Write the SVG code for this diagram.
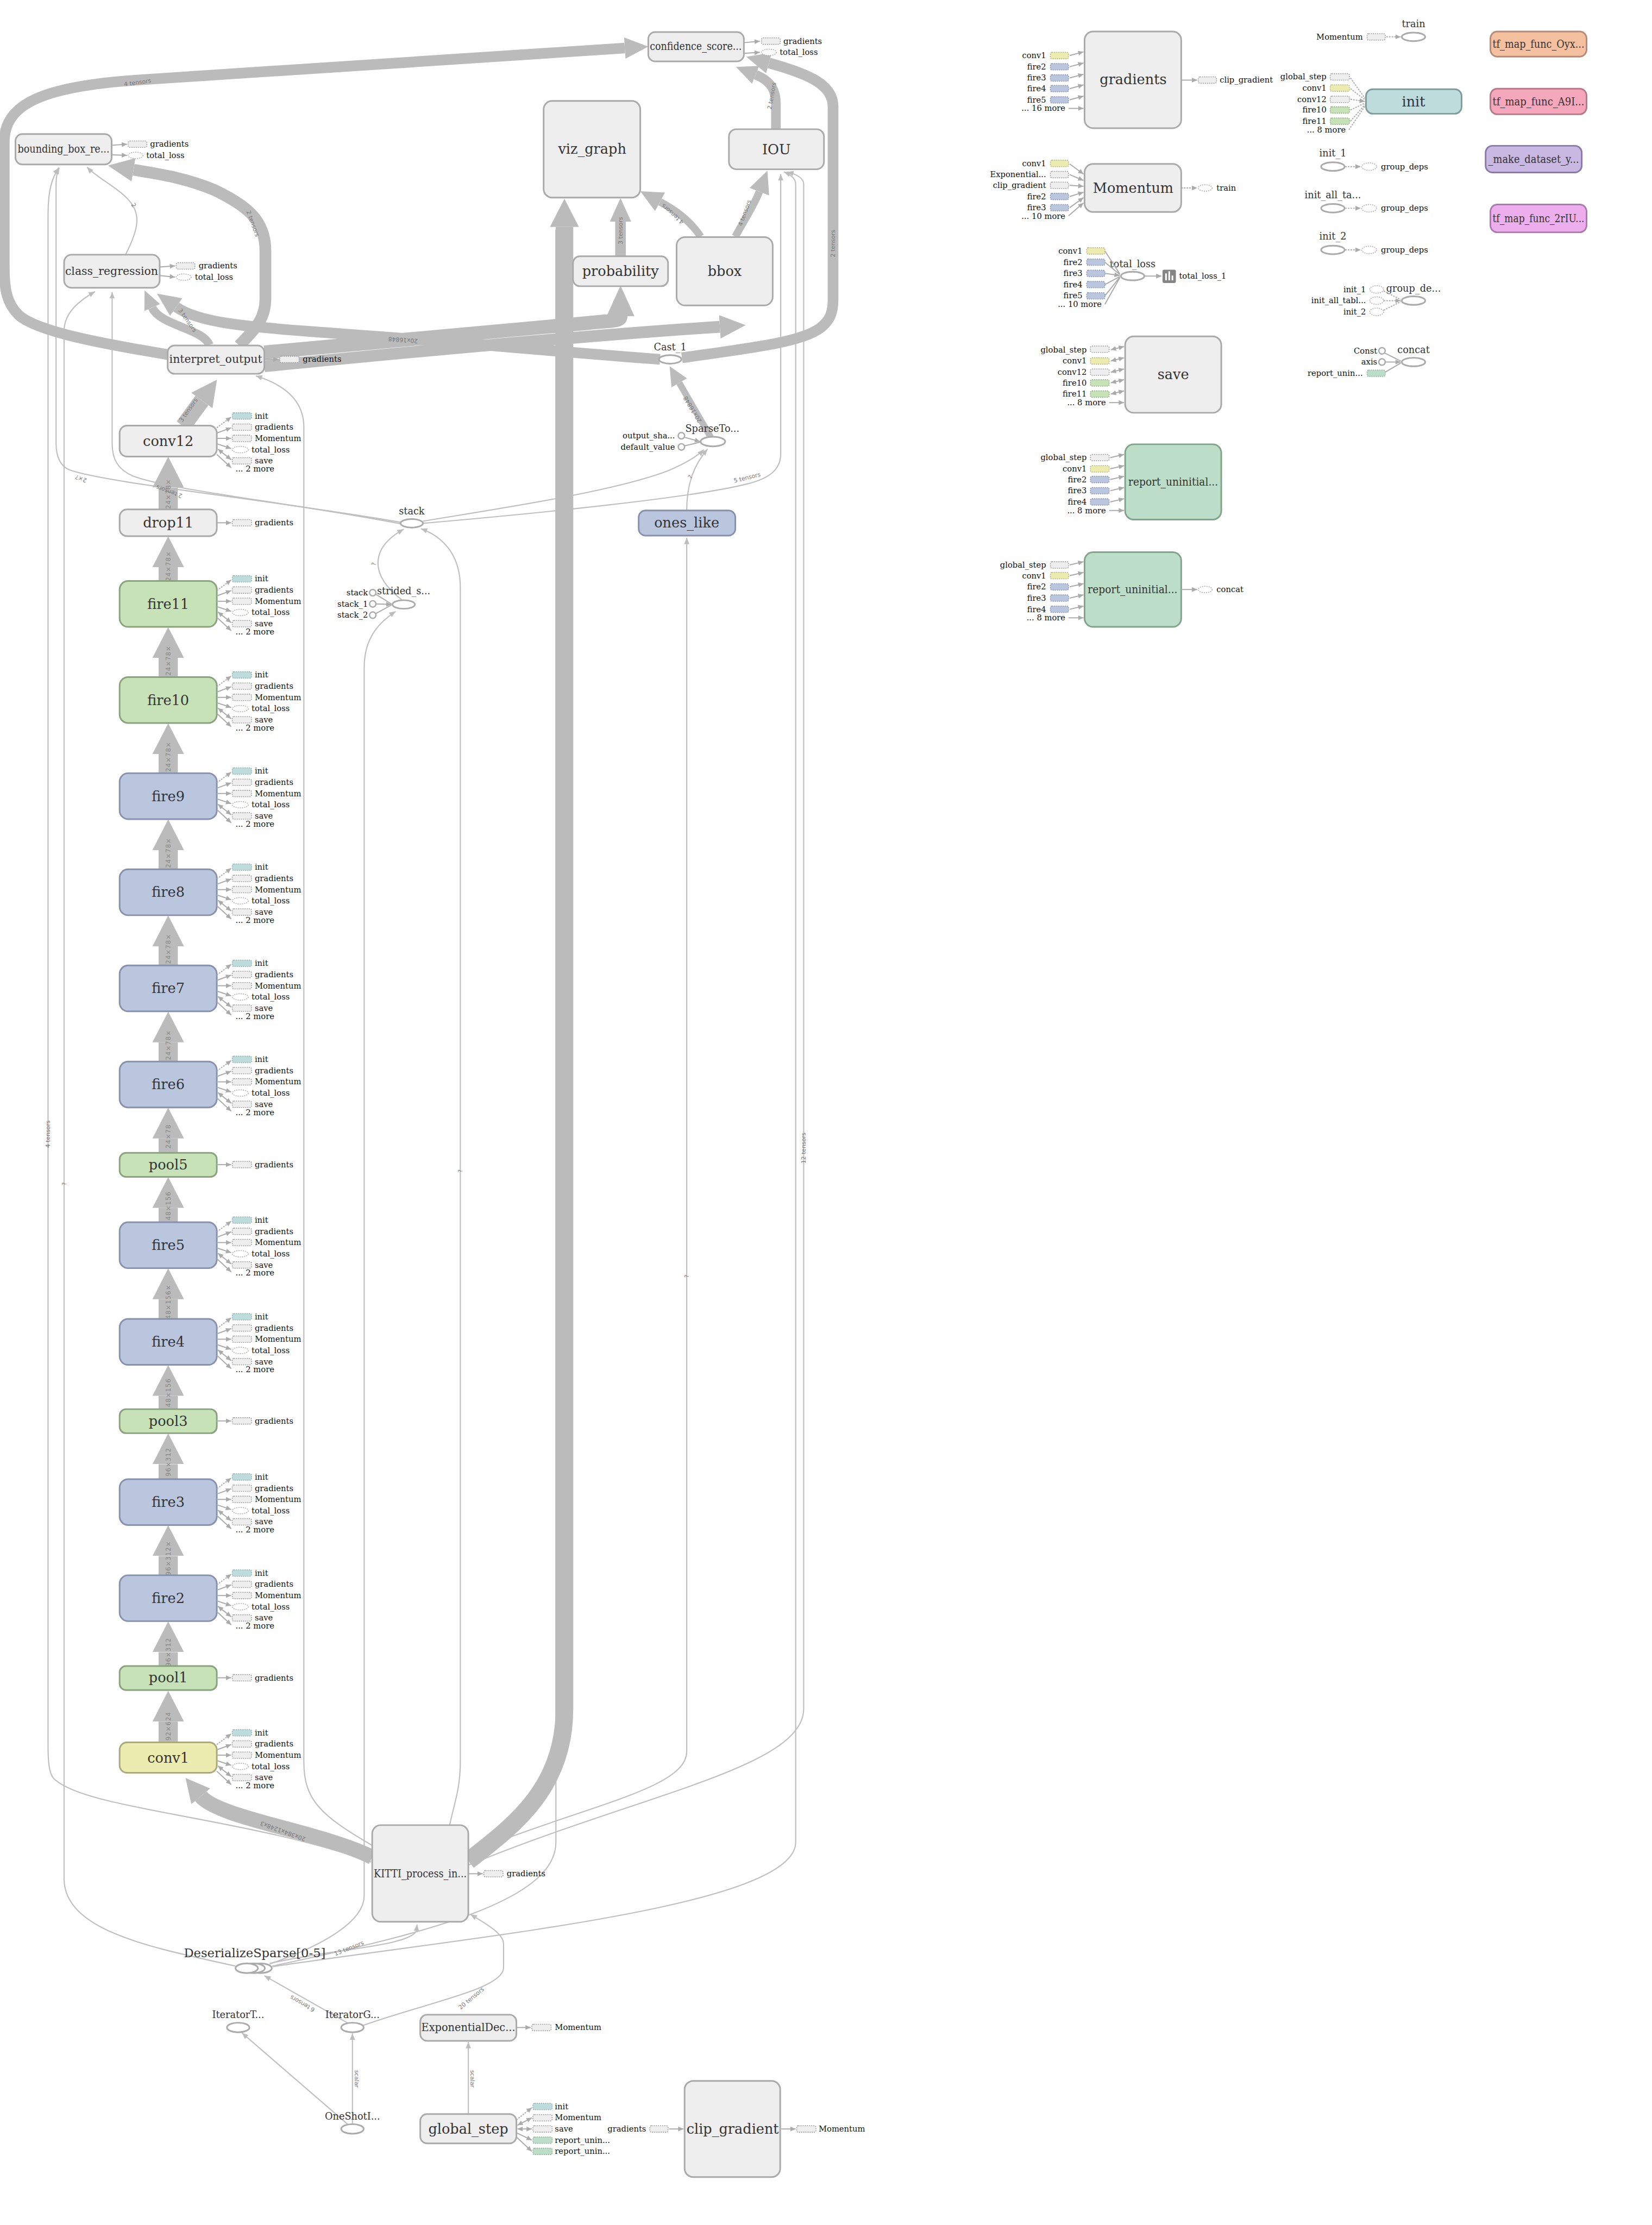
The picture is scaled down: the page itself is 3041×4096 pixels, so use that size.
<svg xmlns="http://www.w3.org/2000/svg" xmlns:xlink="http://www.w3.org/1999/xlink" width="3041" height="4096" viewBox="0 0 3041 4096">
<style>
.nd{stroke-width:3}
.g{fill:#eeeeee;stroke:#a9a9a9}
.b{fill:#bac5de;stroke:#8791ab}
.gr{fill:#c6e2b6;stroke:#8aa27e}
.y{fill:#ececb0;stroke:#a9a97c}
.t{fill:#bfdcdc;stroke:#7e9c9c}
.m{fill:#bcdec8;stroke:#82a28c}
.fo{fill:#f5c0a0;stroke:#b58a78}
.fp{fill:#f5a7bb;stroke:#b47a8a}
.fv{fill:#c8b8e2;stroke:#8a7aaa}
.fm{fill:#ecaeec;stroke:#ac7aac}
.L{font-family:"DejaVu Serif","Liberation Serif",serif;font-size:26px;fill:#333;text-anchor:middle}
.Lm{font-family:"DejaVu Serif","Liberation Serif",serif;font-size:20px;fill:#333;text-anchor:middle}
.oL{font-family:"DejaVu Serif","Liberation Serif",serif;font-size:18px;fill:#333;text-anchor:middle}
.s{font-family:"DejaVu Serif","Liberation Serif",serif;font-size:15px;fill:#111}
.sr{font-family:"DejaVu Serif","Liberation Serif",serif;font-size:15px;fill:#111;text-anchor:end}
.el{font-family:"DejaVu Sans","Liberation Sans",sans-serif;font-size:11px;fill:#777;text-anchor:middle}
.cl{font-family:"DejaVu Sans","Liberation Sans",sans-serif;font-size:12px;fill:#888;text-anchor:middle;letter-spacing:1px}
.thin{fill:none;stroke:#bfbfbf;stroke-width:2.2}
.thk{fill:none;stroke:#bbbbbb}
.sa{fill:none;stroke:#aaaaaa;stroke-width:2}
.sd{stroke-dasharray:3 2}
.dr{fill:#eeeeee;stroke:#999999;stroke-width:1.6;stroke-dasharray:2 2}
.de{fill:#ffffff;stroke:#aaaaaa;stroke-width:1.6;stroke-dasharray:2 2}
.op{fill:#ffffff;stroke:#aaaaaa;stroke-width:3}
.oc{fill:#ffffff;stroke:#aaaaaa;stroke-width:2.5}
</style>
<defs>
<marker id="hc" viewBox="0 0 10 10" refX="0" refY="5" markerWidth="1.6" markerHeight="1.64" orient="auto" preserveAspectRatio="none"><path d="M0,0 L10,5 L0,10 z" fill="#bbbbbb"/></marker>
<marker id="ht" viewBox="0 0 10 10" refX="0" refY="5" markerWidth="2.2" markerHeight="2.0" orient="auto" preserveAspectRatio="none"><path d="M0,0 L10,5 L0,10 z" fill="#bbbbbb"/></marker>
<marker id="hw" viewBox="0 0 10 10" refX="0" refY="5" markerWidth="3" markerHeight="2.8" orient="auto" preserveAspectRatio="none"><path d="M0,0 L10,5 L0,10 z" fill="#bbbbbb"/></marker>
<marker id="ta" viewBox="0 0 12 10" refX="12" refY="5" markerWidth="12" markerHeight="10" markerUnits="userSpaceOnUse" orient="auto"><path d="M0,0 L12,5 L0,10 z" fill="#bdbdbd"/></marker>
<marker id="sa" viewBox="0 0 10 9" refX="10" refY="4.5" markerWidth="10" markerHeight="9" markerUnits="userSpaceOnUse" orient="auto-start-reverse"><path d="M0,0 L10,4.5 L0,9 z" fill="#aaaaaa"/></marker>
<g id="sat6">
<line class="sa sd" x1="0" y1="-25" x2="27" y2="-45" marker-end="url(#sa)"/>
<rect class="dr" x="29" y="-53" width="36" height="12" rx="3" style="fill:#bfdcdc;stroke:#8fabab"/>
<line class="sa" x1="0" y1="-15" x2="27" y2="-25" marker-end="url(#sa)"/>
<rect class="dr" x="29" y="-32" width="36" height="12" rx="3"/>
<line class="sa" x1="0" y1="-5" x2="27" y2="-5" marker-end="url(#sa)"/>
<rect class="dr" x="29" y="-11" width="36" height="12" rx="3"/>
<line class="sa" x1="0" y1="5" x2="27" y2="14" marker-end="url(#sa)"/>
<ellipse class="de" cx="44" cy="16" rx="15" ry="6"/>
<line class="sa" x1="2" y1="15" x2="27" y2="35" marker-start="url(#sa)" marker-end="url(#sa)"/>
<rect class="dr" x="29" y="31" width="36" height="12" rx="3"/>
<line class="sa" x1="0" y1="25" x2="27" y2="50" marker-end="url(#sa)"/>
</g>
<g id="sat1">
<line class="sa" x1="0" y1="0" x2="27" y2="0" marker-end="url(#sa)"/>
<rect class="dr" x="29" y="-6" width="36" height="12" rx="3"/>
</g>
</defs>
<rect x="0" y="0" width="3041" height="4096" fill="#ffffff"/>
<g transform="scale(0.983)">

<g id="connectors">
<path class="thin" marker-end="url(#ta)" d="M695,3487 C450,3400 160,3390 100,3330 C92,3320 90,3300 90,3270 L90,400 C90,350 100,330 110,314"/>
<path class="thin" marker-end="url(#ta)" d="M441,3682 C300,3650 122,3620 120,3520 L120,620 C120,585 150,562 178,546"/>
<path class="thin" marker-end="url(#ta)" d="M750,978 C500,935 200,905 130,880 C112,872 105,855 105,830 L105,345 C105,330 108,320 111,314"/>
<path class="thin" marker-end="url(#ta)" d="M751,981 C550,942 330,920 250,892 C222,880 210,862 210,830 L210,547"/>
<path class="thin" marker-end="url(#ta)" d="M235,477 C262,425 262,400 243,377 C222,352 182,333 163,313"/>
<path class="thin" marker-end="url(#ta)" d="M697,3456 C600,3400 569,3370 569,3300 L569,800 C569,745 525,718 479,704"/>
<path class="thin" marker-end="url(#ta)" d="M505,3678 C600,3645 682,3600 682,3550 L682,1250 C682,1190 715,1162 741,1145"/>
<path class="thin" marker-end="url(#ta)" d="M842,3418 C850,3380 862,3350 862,3300 L862,1100 C862,1035 825,1003 788,990"/>
<path class="thin" marker-end="url(#ta)" d="M752,1123 C690,1075 695,1025 756,991"/>
<path class="thin" marker-end="url(#ta)" d="M792,976 C950,950 1150,920 1250,882 C1290,865 1308,852 1318,842"/>
<path class="thin" marker-end="url(#ta)" d="M792,980 C1000,962 1300,932 1400,906 C1440,896 1462,880 1462,850 L1462,326"/>
<path class="thin" marker-end="url(#ta)" d="M877,3470 C1100,3380 1286,3350 1286,3280 L1286,1007"/>
<path class="thin" marker-end="url(#ta)" d="M1286,956 C1286,905 1300,870 1325,841"/>
<path class="thin" marker-end="url(#ta)" d="M877,3493 C1200,3360 1505,3310 1505,3200 L1505,345 C1505,333 1490,326 1474,322"/>
<path class="thin" marker-end="url(#ta)" d="M510,3683 C900,3625 1490,3570 1490,3450 L1490,345 C1490,333 1478,326 1468,322"/>
<path class="thin" d="M510,3682 C800,3620 1041,3560 1041,3450 L1041,430"/>
<path class="thin" marker-end="url(#ta)" d="M505,3677 C620,3650 770,3645 780,3615 L781,3604"/>
<path class="thin" marker-end="url(#ta)" d="M652,3789 L495,3700"/>
<path class="thin" marker-end="url(#ta)" d="M680,3793 C800,3750 943,3725 943,3685 L943,3640 C943,3620 905,3600 881,3585"/>
<path class="thin" marker-end="url(#ta)" d="M652,3979 L453,3807"/>
<path class="thin" marker-end="url(#ta)" d="M660,3978 L660,3808"/>
<path class="thin" marker-end="url(#ta)" d="M877,3958 L877,3824"/>

<path class="thk" stroke-width="20" marker-end="url(#ht)" d="M314,664 C200,645 70,622 35,590 C12,568 8,540 8,500 L8,265 C8,195 80,162 255,150 L1170,90"/>
<path class="thk" stroke-width="22" marker-end="url(#ht)" d="M448,647 C475,618 497,600 497,560 L497,470 C497,412 462,385 402,356 C345,332 292,325 250,318"/>
<path class="thk" stroke-width="16" marker-end="url(#ht)" d="M392,646 C380,615 300,610 285,576"/>
<path class="thk" stroke-width="20" marker-end="url(#ht)" d="M1236,673 C1000,655 800,636 650,626 C500,614 380,610 330,575"/>
<path class="thk" stroke-width="26" marker-end="url(#ht)" d="M495,660 C800,632 1000,615 1100,605 C1148,600 1162,602 1162,592"/>
<path class="thk" stroke-width="22" marker-end="url(#ht)" d="M495,686 C800,656 1100,628 1348,612"/>
<path class="thk" stroke-width="20" marker-end="url(#ht)" d="M1277,670 C1420,650 1500,640 1535,615 C1555,600 1560,585 1560,560 L1560,200 C1560,160 1520,140 1440,118"/>
<path class="thk" stroke-width="18" marker-end="url(#ht)" d="M1453,242 L1453,195 C1453,170 1445,152 1415,140"/>
<path class="thk" stroke-width="20" marker-end="url(#ht)" d="M1162,480 L1162,415"/>
<path class="thk" stroke-width="14" marker-end="url(#hw)" d="M1312,443 C1290,410 1262,392 1236,378"/>
<path class="thk" stroke-width="14" marker-end="url(#hw)" d="M1377,443 C1395,410 1412,385 1422,359"/>
<path class="thk" stroke-width="12" marker-end="url(#hw)" d="M1331,819 L1272,717"/>
<path class="thk" stroke-width="33" marker-end="url(#hc)" d="M877,3485 C960,3420 1057,3350 1057,3200 L1057,425"/>
<path class="thk" stroke-width="28" marker-end="url(#hc)" d="M697,3478 C600,3430 410,3405 376,3364"/>
<path class="thk" stroke-width="30" marker-end="url(#hc)" d="M343,798 L378,750"/>

<g class="thk" stroke-width="36">
<path marker-end="url(#hc)" d="M315,3263 V3224"/>
<path marker-end="url(#hc)" d="M315,3120 V3094"/>
<path marker-end="url(#hc)" d="M315,2950 V2914"/>
<path marker-end="url(#hc)" d="M315,2770 V2742"/>
<path marker-end="url(#hc)" d="M315,2639 V2614"/>
<path marker-end="url(#hc)" d="M315,2470 V2433"/>
<path marker-end="url(#hc)" d="M315,2289 V2262"/>
<path marker-end="url(#hc)" d="M315,2159 V2132"/>
<path marker-end="url(#hc)" d="M315,1988 V1952"/>
<path marker-end="url(#hc)" d="M315,1808 V1772"/>
<path marker-end="url(#hc)" d="M315,1628 V1592"/>
<path marker-end="url(#hc)" d="M315,1448 V1412"/>
<path marker-end="url(#hc)" d="M315,1268 V1232"/>
<path marker-end="url(#hc)" d="M315,1088 V1062"/>
<path marker-end="url(#hc)" d="M315,954 V913"/>
</g>

<g class="cl">
<text transform="translate(319,3237) rotate(-90)">192×624</text>
<text transform="translate(319,3094) rotate(-90)">96×312</text>
<text transform="translate(319,2918) rotate(-90)">96×312×</text>
<text transform="translate(319,2738) rotate(-90)">96×312</text>
<text transform="translate(319,2608) rotate(-90)">48×156</text>
<text transform="translate(319,2438) rotate(-90)">48×156×</text>
<text transform="translate(319,2258) rotate(-90)">48×156</text>
<text transform="translate(319,2128) rotate(-90)">24×78</text>
<text transform="translate(319,1957) rotate(-90)">24×78×</text>
<text transform="translate(319,1777) rotate(-90)">24×78×</text>
<text transform="translate(319,1597) rotate(-90)">24×78×</text>
<text transform="translate(319,1417) rotate(-90)">24×78×</text>
<text transform="translate(319,1237) rotate(-90)">24×78×</text>
<text transform="translate(319,1060) rotate(-90)">24×78×</text>
<text transform="translate(319,925) rotate(-90)">24×78×</text>
</g>
<g class="el">
<text transform="translate(258,158) rotate(-8)">4 tensors</text>
<text transform="translate(470,420) rotate(70)">2 tensors</text>
<text transform="translate(348,602) rotate(55)">3 tensors</text>
<text transform="translate(755,633) rotate(184)">20x16848</text>
<text transform="translate(1564,456) rotate(-90)">2 tensors</text>
<text transform="translate(1449,180) rotate(-80)">2 tensors</text>
<text transform="translate(1166,432) rotate(-90)">3 tensors</text>
<text transform="translate(1262,398) rotate(222)">4 tensors</text>
<text transform="translate(1398,400) rotate(-70)">4 tensors</text>
<text transform="translate(1300,765) rotate(239)">20x16848</text>
<text transform="translate(356,770) rotate(-55)">3 tensors</text>
<text transform="translate(531,3426) rotate(200)">20x384x1248x3</text>
<text transform="translate(94,2124) rotate(-90)">4 tensors</text>
<text transform="translate(153,893) rotate(200)">2×?</text>
<text transform="translate(318,917) rotate(200)">2 tensors</text>
<text transform="translate(247,386) rotate(60)">2</text>
<text transform="translate(704,1057) rotate(-80)">?</text>
<text transform="translate(1400,898) rotate(-14)">5 tensors</text>
<text transform="translate(1296,895) rotate(-60)">?</text>
<text transform="translate(1509,2150) rotate(-90)">12 tensors</text>
<text transform="translate(124,2217) rotate(-90)">?</text>
<text transform="translate(866,2193) rotate(-90)">?</text>
<text transform="translate(1290,2390) rotate(-90)">?</text>
<text transform="translate(655,3652) rotate(-22)">13 tensors</text>
<text transform="translate(568,3749) rotate(210)">6 tensors</text>
<text transform="translate(885,3745) rotate(-40)">20 tensors</text>
<text transform="translate(664,3893) rotate(90)">scalar</text>
<text transform="translate(881,3893) rotate(90)">scalar</text>
</g>
</g>

<g id="n-conv12"><rect class="nd g" x="224" y="797" width="182" height="58" rx="14"/><text class="L" x="315" y="835">conv12</text>
<use href="#sat6" x="406" y="826"/>
<text class="s" x="477" y="784">init</text><text class="s" x="477" y="805">gradients</text><text class="s" x="477" y="826">Momentum</text><text class="s" x="471" y="847">total_loss</text><text class="s" x="477" y="868">save</text><text class="s" x="441" y="883">... 2 more</text></g>

<g id="n-drop11"><rect class="nd g" x="224" y="954" width="182" height="50" rx="14"/><text class="L" x="315" y="988">drop11</text>
<use href="#sat1" x="406" y="979"/><text class="s" x="477" y="984">gradients</text></g>

<g id="n-fire11"><rect class="nd gr" x="224" y="1088" width="182" height="86" rx="16"/><text class="L" x="315" y="1140">fire11</text>
<use href="#sat6" x="406" y="1131"/>
<text class="s" x="477" y="1089">init</text><text class="s" x="477" y="1110">gradients</text><text class="s" x="477" y="1131">Momentum</text><text class="s" x="471" y="1152">total_loss</text><text class="s" x="477" y="1173">save</text><text class="s" x="441" y="1188">... 2 more</text></g>

<g id="n-fire10"><rect class="nd gr" x="224" y="1268" width="182" height="86" rx="16"/><text class="L" x="315" y="1320">fire10</text>
<use href="#sat6" x="406" y="1311"/>
<text class="s" x="477" y="1269">init</text><text class="s" x="477" y="1290">gradients</text><text class="s" x="477" y="1311">Momentum</text><text class="s" x="471" y="1332">total_loss</text><text class="s" x="477" y="1353">save</text><text class="s" x="441" y="1368">... 2 more</text></g>

<g id="n-fire9"><rect class="nd b" x="224" y="1448" width="182" height="86" rx="16"/><text class="L" x="315" y="1500">fire9</text>
<use href="#sat6" x="406" y="1491"/>
<text class="s" x="477" y="1449">init</text><text class="s" x="477" y="1470">gradients</text><text class="s" x="477" y="1491">Momentum</text><text class="s" x="471" y="1512">total_loss</text><text class="s" x="477" y="1533">save</text><text class="s" x="441" y="1548">... 2 more</text></g>

<g id="n-fire8"><rect class="nd b" x="224" y="1628" width="182" height="86" rx="16"/><text class="L" x="315" y="1680">fire8</text>
<use href="#sat6" x="406" y="1671"/>
<text class="s" x="477" y="1629">init</text><text class="s" x="477" y="1650">gradients</text><text class="s" x="477" y="1671">Momentum</text><text class="s" x="471" y="1692">total_loss</text><text class="s" x="477" y="1713">save</text><text class="s" x="441" y="1728">... 2 more</text></g>

<g id="n-fire7"><rect class="nd b" x="224" y="1808" width="182" height="86" rx="16"/><text class="L" x="315" y="1860">fire7</text>
<use href="#sat6" x="406" y="1851"/>
<text class="s" x="477" y="1809">init</text><text class="s" x="477" y="1830">gradients</text><text class="s" x="477" y="1851">Momentum</text><text class="s" x="471" y="1872">total_loss</text><text class="s" x="477" y="1893">save</text><text class="s" x="441" y="1908">... 2 more</text></g>

<g id="n-fire6"><rect class="nd b" x="224" y="1988" width="182" height="86" rx="16"/><text class="L" x="315" y="2040">fire6</text>
<use href="#sat6" x="406" y="2031"/>
<text class="s" x="477" y="1989">init</text><text class="s" x="477" y="2010">gradients</text><text class="s" x="477" y="2031">Momentum</text><text class="s" x="471" y="2052">total_loss</text><text class="s" x="477" y="2073">save</text><text class="s" x="441" y="2088">... 2 more</text></g>

<g id="n-pool5"><rect class="nd gr" x="224" y="2159" width="182" height="45" rx="12"/><text class="L" x="315" y="2190">pool5</text>
<use href="#sat1" x="406" y="2181"/><text class="s" x="477" y="2186">gradients</text></g>

<g id="n-fire5"><rect class="nd b" x="224" y="2289" width="182" height="86" rx="16"/><text class="L" x="315" y="2341">fire5</text>
<use href="#sat6" x="406" y="2332"/>
<text class="s" x="477" y="2290">init</text><text class="s" x="477" y="2311">gradients</text><text class="s" x="477" y="2332">Momentum</text><text class="s" x="471" y="2353">total_loss</text><text class="s" x="477" y="2374">save</text><text class="s" x="441" y="2389">... 2 more</text></g>

<g id="n-fire4"><rect class="nd b" x="224" y="2470" width="182" height="86" rx="16"/><text class="L" x="315" y="2522">fire4</text>
<use href="#sat6" x="406" y="2513"/>
<text class="s" x="477" y="2471">init</text><text class="s" x="477" y="2492">gradients</text><text class="s" x="477" y="2513">Momentum</text><text class="s" x="471" y="2534">total_loss</text><text class="s" x="477" y="2555">save</text><text class="s" x="441" y="2570">... 2 more</text></g>

<g id="n-pool3"><rect class="nd gr" x="224" y="2639" width="182" height="45" rx="12"/><text class="L" x="315" y="2670">pool3</text>
<use href="#sat1" x="406" y="2661"/><text class="s" x="477" y="2666">gradients</text></g>

<g id="n-fire3"><rect class="nd b" x="224" y="2770" width="182" height="86" rx="16"/><text class="L" x="315" y="2822">fire3</text>
<use href="#sat6" x="406" y="2813"/>
<text class="s" x="477" y="2771">init</text><text class="s" x="477" y="2792">gradients</text><text class="s" x="477" y="2813">Momentum</text><text class="s" x="471" y="2834">total_loss</text><text class="s" x="477" y="2855">save</text><text class="s" x="441" y="2870">... 2 more</text></g>

<g id="n-fire2"><rect class="nd b" x="224" y="2950" width="182" height="86" rx="16"/><text class="L" x="315" y="3002">fire2</text>
<use href="#sat6" x="406" y="2993"/>
<text class="s" x="477" y="2951">init</text><text class="s" x="477" y="2972">gradients</text><text class="s" x="477" y="2993">Momentum</text><text class="s" x="471" y="3014">total_loss</text><text class="s" x="477" y="3035">save</text><text class="s" x="441" y="3050">... 2 more</text></g>

<g id="n-pool1"><rect class="nd gr" x="224" y="3120" width="182" height="45" rx="12"/><text class="L" x="315" y="3151">pool1</text>
<use href="#sat1" x="406" y="3142"/><text class="s" x="477" y="3147">gradients</text></g>

<g id="n-conv1"><rect class="nd y" x="224" y="3263" width="182" height="57" rx="14"/><text class="L" x="315" y="3301">conv1</text>
<use href="#sat6" x="406" y="3292"/>
<text class="s" x="477" y="3250">init</text><text class="s" x="477" y="3271">gradients</text><text class="s" x="477" y="3292">Momentum</text><text class="s" x="471" y="3313">total_loss</text><text class="s" x="477" y="3334">save</text><text class="s" x="441" y="3349">... 2 more</text></g>

<g id="n-confidence"><rect class="nd g" x="1214" y="60" width="179" height="55" rx="13"/><text class="Lm" x="1303" y="94" textLength="172" lengthAdjust="spacingAndGlyphs">confidence_score...</text>
<line class="sa" x1="1393" y1="80" x2="1423" y2="77" marker-end="url(#sa)"/><rect class="dr" x="1426" y="71" width="35" height="12" rx="3"/><text class="s" x="1467" y="82">gradients</text>
<line class="sa" x1="1393" y1="100" x2="1423" y2="98" marker-end="url(#sa)"/><ellipse class="de" cx="1440" cy="98" rx="14" ry="6"/><text class="s" x="1460" y="103">total_loss</text></g>

<g id="n-bounding_box"><rect class="nd g" x="29" y="251" width="180" height="57" rx="13"/><text class="Lm" x="119" y="286" textLength="172" lengthAdjust="spacingAndGlyphs">bounding_box_re...</text>
<line class="sa" x1="209" y1="272" x2="238" y2="270" marker-end="url(#sa)"/><rect class="dr" x="240" y="264" width="35" height="12" rx="3"/><text class="s" x="281" y="275">gradients</text>
<line class="sa" x1="209" y1="290" x2="238" y2="291" marker-end="url(#sa)"/><ellipse class="de" cx="254" cy="291" rx="14" ry="6"/><text class="s" x="274" y="296">total_loss</text></g>

<g id="n-class_regression"><rect class="nd g" x="120" y="477" width="179" height="62" rx="14"/><text class="Lm" x="209" y="515" textLength="174" lengthAdjust="spacingAndGlyphs">class_regression</text>
<line class="sa" x1="299" y1="500" x2="328" y2="498" marker-end="url(#sa)"/><rect class="dr" x="330" y="492" width="35" height="12" rx="3"/><text class="s" x="372" y="503">gradients</text>
<line class="sa" x1="299" y1="516" x2="328" y2="519" marker-end="url(#sa)"/><ellipse class="de" cx="344" cy="519" rx="14" ry="6"/><text class="s" x="365" y="524">total_loss</text></g>

<g id="n-interpret_output"><rect class="nd g" x="314" y="647" width="181" height="53" rx="13"/><text class="Lm" x="404" y="680" textLength="174" lengthAdjust="spacingAndGlyphs">interpret_output</text>
<use href="#sat1" x="495" y="673"/><text class="s" x="567" y="678">gradients</text></g>

<g id="n-viz_graph"><rect class="nd g" x="1018" y="189" width="181" height="181" rx="16"/><text class="L" x="1109" y="288">viz_graph</text></g>
<g id="n-IOU"><rect class="nd g" x="1365" y="242" width="178" height="75" rx="14"/><text class="L" x="1454" y="289">IOU</text></g>
<g id="n-probability"><rect class="nd g" x="1073" y="480" width="178" height="56" rx="13"/><text class="L" x="1162" y="517">probability</text></g>
<g id="n-bbox"><rect class="nd g" x="1267" y="444" width="180" height="128" rx="16"/><text class="L" x="1357" y="517">bbox</text></g>

<g id="n-Cast_1"><ellipse class="op" cx="1255" cy="673" rx="21" ry="8"/><text class="oL" x="1255" y="656">Cast_1</text></g>
<g id="n-SparseTo"><ellipse class="op" cx="1335" cy="827" rx="23" ry="9"/><text class="oL" x="1334" y="809">SparseTo...</text>
<circle class="oc" cx="1276" cy="816" r="6"/><text class="sr" x="1264" y="821">output_sha...</text>
<circle class="oc" cx="1276" cy="837" r="6"/><text class="sr" x="1264" y="842">default_value</text>
<line class="sa" x1="1282" y1="819" x2="1311" y2="827" marker-end="url(#sa)"/><line class="sa" x1="1282" y1="835" x2="1311" y2="828"/></g>

<g id="n-ones_like"><rect class="nd b" x="1196" y="956" width="181" height="47" rx="13"/><text class="L" x="1286" y="988">ones_like</text></g>

<g id="n-stack"><ellipse class="op" cx="771" cy="980" rx="21" ry="8"/><text class="oL" x="771" y="963">stack</text></g>
<g id="n-strided_slice"><ellipse class="op" cx="756" cy="1132" rx="21" ry="8"/><text class="oL" x="756" y="1113">strided_s...</text>
<circle class="oc" cx="698" cy="1110" r="6"/><text class="sr" x="689" y="1115">stack</text>
<circle class="oc" cx="698" cy="1131" r="6"/><text class="sr" x="689" y="1136">stack_1</text>
<circle class="oc" cx="698" cy="1152" r="6"/><text class="sr" x="689" y="1157">stack_2</text>
<line class="sa" x1="704" y1="1113" x2="733" y2="1131"/><line class="sa" x1="704" y1="1131" x2="733" y2="1132" marker-end="url(#sa)"/><line class="sa" x1="704" y1="1149" x2="733" y2="1133"/></g>

<g id="n-KITTI"><rect class="nd g" x="697" y="3418" width="180" height="181" rx="16"/><text class="Lm" x="787" y="3516" textLength="174" lengthAdjust="spacingAndGlyphs">KITTI_process_in...</text>
<use href="#sat1" x="877" y="3509"/><text class="s" x="949" y="3514">gradients</text></g>

<g id="n-DeserializeSparse"><ellipse class="op" cx="488" cy="3686" rx="21" ry="9"/><ellipse class="op" cx="475" cy="3686" rx="21" ry="9"/><ellipse class="op" cx="462" cy="3686" rx="21" ry="9"/>
<text class="L" x="477" y="3665" style="font-size:23px">DeserializeSparse[0-5]</text></g>
<g id="n-IteratorT"><ellipse class="op" cx="446" cy="3797" rx="21" ry="9"/><text class="oL" x="446" y="3779">IteratorT...</text></g>
<g id="n-IteratorG"><ellipse class="op" cx="660" cy="3797" rx="21" ry="9"/><text class="oL" x="660" y="3779">IteratorG...</text></g>
<g id="n-OneShotI"><ellipse class="op" cx="660" cy="3987" rx="21" ry="9"/><text class="oL" x="660" y="3969">OneShotI...</text></g>

<g id="n-ExponentialDec"><rect class="nd g" x="787" y="3773" width="180" height="49" rx="13"/><text class="Lm" x="877" y="3804" textLength="176" lengthAdjust="spacingAndGlyphs">ExponentialDec...</text>
<use href="#sat1" x="967" y="3797"/><text class="s" x="1039" y="3802">Momentum</text></g>

<g id="n-global_step"><rect class="nd g" x="787" y="3959" width="180" height="55" rx="13"/><text class="L" x="877" y="3996">global_step</text>
<line class="sa sd" x1="967" y1="3970" x2="996" y2="3947" marker-end="url(#sa)"/><rect class="dr" x="998" y="3939" width="36" height="12" rx="3" style="fill:#bfdcdc;stroke:#8fabab"/><text class="s" x="1039" y="3950">init</text>
<line class="sa" x1="969" y1="3980" x2="996" y2="3966" marker-start="url(#sa)" marker-end="url(#sa)"/><rect class="dr" x="998" y="3960" width="36" height="12" rx="3"/><text class="s" x="1039" y="3971">Momentum</text>
<line class="sa" x1="969" y1="3987" x2="996" y2="3987" marker-start="url(#sa)" marker-end="url(#sa)"/><rect class="dr" x="998" y="3981" width="36" height="12" rx="3"/><text class="s" x="1039" y="3992">save</text>
<line class="sa" x1="967" y1="3994" x2="996" y2="4008" marker-end="url(#sa)"/><rect class="dr" x="998" y="4002" width="36" height="12" rx="3" style="fill:#bcdec8;stroke:#8fab98"/><text class="s" x="1039" y="4013">report_unin...</text>
<line class="sa" x1="967" y1="4002" x2="996" y2="4029" marker-end="url(#sa)"/><rect class="dr" x="998" y="4023" width="36" height="12" rx="3" style="fill:#bcdec8;stroke:#8fab98"/><text class="s" x="1039" y="4034">report_unin...</text></g>

<g id="n-clip_gradient"><rect class="nd g" x="1282" y="3897" width="179" height="180" rx="16"/><text class="L" x="1372" y="3996">clip_gradient</text>
<rect class="dr" x="1217" y="3981" width="34" height="12" rx="3"/><text class="sr" x="1210" y="3992">gradients</text><line class="sa" x1="1253" y1="3987" x2="1280" y2="3987" marker-end="url(#sa)"/>
<use href="#sat1" x="1463" y="3987"/><text class="s" x="1533" y="3992">Momentum</text></g>

<g id="n-gradients"><rect class="nd g" x="2031" y="59" width="181" height="181" rx="16"/><text class="L" x="2122" y="158">gradients</text>
<rect class="dr" x="1967" y="98" width="34" height="12" rx="3" style="fill:#ececb0;stroke:#b0b080"/><text class="sr" x="1959" y="109">conv1</text><line class="sa" x1="2003" y1="104" x2="2029" y2="97" marker-end="url(#sa)"/>
<rect class="dr" x="1967" y="119" width="34" height="12" rx="3" style="fill:#bac5de;stroke:#8791ab"/><text class="sr" x="1959" y="130">fire2</text><line class="sa" x1="2003" y1="125" x2="2029" y2="118" marker-end="url(#sa)"/>
<rect class="dr" x="1967" y="140" width="34" height="12" rx="3" style="fill:#bac5de;stroke:#8791ab"/><text class="sr" x="1959" y="151">fire3</text><line class="sa" x1="2003" y1="146" x2="2029" y2="139" marker-end="url(#sa)"/>
<rect class="dr" x="1967" y="160" width="34" height="12" rx="3" style="fill:#bac5de;stroke:#8791ab"/><text class="sr" x="1959" y="171">fire4</text><line class="sa" x1="2003" y1="166" x2="2029" y2="159" marker-end="url(#sa)"/>
<rect class="dr" x="1967" y="181" width="34" height="12" rx="3" style="fill:#bac5de;stroke:#8791ab"/><text class="sr" x="1959" y="192">fire5</text><line class="sa" x1="2003" y1="187" x2="2029" y2="180" marker-end="url(#sa)"/>
<text class="sr" x="1995" y="208">... 16 more</text><line class="sa" x1="2001" y1="203" x2="2029" y2="203" marker-end="url(#sa)"/>
<line class="sa" x1="2212" y1="150" x2="2242" y2="150" marker-end="url(#sa)"/><rect class="dr" x="2244" y="144" width="34" height="12" rx="3"/><text class="s" x="2284" y="155">clip_gradient</text></g>

<g id="n-Momentum"><rect class="nd g" x="2031" y="307" width="181" height="90" rx="16"/><text class="L" x="2122" y="361">Momentum</text>
<rect class="dr" x="1967" y="300" width="34" height="12" rx="3" style="fill:#ececb0;stroke:#b0b080"/><text class="sr" x="1959" y="311">conv1</text><line class="sa" x1="2003" y1="307" x2="2029" y2="326" marker-end="url(#sa)"/>
<rect class="dr" x="1967" y="321" width="34" height="12" rx="3"/><text class="sr" x="1959" y="332">Exponential...</text><line class="sa" x1="2003" y1="327" x2="2029" y2="338" marker-end="url(#sa)"/>
<rect class="dr" x="1967" y="341" width="34" height="12" rx="3"/><text class="sr" x="1959" y="352">clip_gradient</text><line class="sa" x1="2003" y1="347" x2="2029" y2="349" marker-end="url(#sa)"/>
<rect class="dr" x="1967" y="362" width="34" height="12" rx="3" style="fill:#bac5de;stroke:#8791ab"/><text class="sr" x="1959" y="373">fire2</text><line class="sa" x1="2003" y1="368" x2="2029" y2="360" marker-end="url(#sa)"/>
<rect class="dr" x="1967" y="383" width="34" height="12" rx="3" style="fill:#bac5de;stroke:#8791ab"/><text class="sr" x="1959" y="394">fire3</text><line class="sa" x1="2003" y1="389" x2="2029" y2="370" marker-end="url(#sa)"/>
<text class="sr" x="1995" y="410">... 10 more</text><line class="sa" x1="2001" y1="404" x2="2029" y2="380" marker-end="url(#sa)"/>
<line class="sa sd" x1="2212" y1="352" x2="2242" y2="352" marker-end="url(#sa)"/><ellipse class="de" cx="2257" cy="352" rx="13" ry="6"/><text class="s" x="2278" y="357">train</text></g>

<g id="n-total_loss"><ellipse class="op" cx="2121" cy="517" rx="22" ry="8"/><text class="oL" x="2121" y="500">total_loss</text>
<rect class="dr" x="2035" y="464" width="34" height="12" rx="3" style="fill:#ececb0;stroke:#b0b080"/><text class="sr" x="2027" y="475">conv1</text><line class="sa" x1="2069" y1="470" x2="2097" y2="513"/>
<rect class="dr" x="2035" y="485" width="34" height="12" rx="3" style="fill:#bac5de;stroke:#8791ab"/><text class="sr" x="2027" y="496">fire2</text><line class="sa" x1="2069" y1="491" x2="2097" y2="514"/>
<rect class="dr" x="2035" y="506" width="34" height="12" rx="3" style="fill:#bac5de;stroke:#8791ab"/><text class="sr" x="2027" y="517">fire3</text><line class="sa" x1="2069" y1="512" x2="2097" y2="516" marker-end="url(#sa)"/>
<rect class="dr" x="2035" y="527" width="34" height="12" rx="3" style="fill:#bac5de;stroke:#8791ab"/><text class="sr" x="2027" y="538">fire4</text><line class="sa" x1="2069" y1="533" x2="2097" y2="518"/>
<rect class="dr" x="2035" y="548" width="34" height="12" rx="3" style="fill:#bac5de;stroke:#8791ab"/><text class="sr" x="2027" y="559">fire5</text><line class="sa" x1="2069" y1="554" x2="2097" y2="519"/>
<text class="sr" x="2063" y="575">... 10 more</text><line class="sa" x1="2069" y1="570" x2="2097" y2="520"/>
<line class="sa" x1="2143" y1="517" x2="2175" y2="517" marker-end="url(#sa)"/>
<rect x="2177" y="505" width="25" height="25" rx="3" fill="#858585"/><rect x="2182" y="512" width="3" height="13" fill="#fff"/><rect x="2188" y="508" width="3" height="17" fill="#fff"/><rect x="2194" y="516" width="3" height="9" fill="#fff"/>
<text class="s" x="2208" y="522">total_loss_1</text></g>

<g id="n-save"><rect class="nd g" x="2107" y="630" width="180" height="143" rx="16"/><text class="L" x="2197" y="710">save</text>
<rect class="dr" x="2042" y="648" width="35" height="12" rx="3"/><text class="sr" x="2035" y="660">global_step</text><line class="sa" x1="2080" y1="655" x2="2105" y2="649" marker-start="url(#sa)" marker-end="url(#sa)"/>
<rect class="dr" x="2042" y="670" width="35" height="12" rx="3" style="fill:#ececb0;stroke:#b0b080"/><text class="sr" x="2035" y="681">conv1</text><line class="sa" x1="2080" y1="676" x2="2105" y2="670" marker-start="url(#sa)" marker-end="url(#sa)"/>
<rect class="dr" x="2042" y="691" width="35" height="12" rx="3"/><text class="sr" x="2035" y="702">conv12</text><line class="sa" x1="2080" y1="697" x2="2105" y2="691" marker-start="url(#sa)" marker-end="url(#sa)"/>
<rect class="dr" x="2042" y="711" width="35" height="12" rx="3" style="fill:#c6e2b6;stroke:#8aa27e"/><text class="sr" x="2035" y="722">fire10</text><line class="sa" x1="2080" y1="717" x2="2105" y2="711" marker-start="url(#sa)" marker-end="url(#sa)"/>
<rect class="dr" x="2042" y="732" width="35" height="12" rx="3" style="fill:#c6e2b6;stroke:#8aa27e"/><text class="sr" x="2035" y="743">fire11</text><line class="sa" x1="2080" y1="738" x2="2105" y2="732" marker-start="url(#sa)" marker-end="url(#sa)"/>
<text class="sr" x="2071" y="759">... 8 more</text><line class="sa" x1="2077" y1="754" x2="2105" y2="754" marker-end="url(#sa)"/></g>

<g id="n-report_uninitial_1"><rect class="nd m" x="2107" y="832" width="180" height="141" rx="16"/><text class="Lm" x="2197" y="909" textLength="168" lengthAdjust="spacingAndGlyphs">report_uninitial...</text>
<rect class="dr" x="2042" y="851" width="35" height="12" rx="3"/><text class="sr" x="2035" y="862">global_step</text><line class="sa" x1="2079" y1="857" x2="2105" y2="851" marker-end="url(#sa)"/>
<rect class="dr" x="2042" y="872" width="35" height="12" rx="3" style="fill:#ececb0;stroke:#b0b080"/><text class="sr" x="2035" y="883">conv1</text><line class="sa" x1="2079" y1="878" x2="2105" y2="872" marker-end="url(#sa)"/>
<rect class="dr" x="2042" y="892" width="35" height="12" rx="3" style="fill:#bac5de;stroke:#8791ab"/><text class="sr" x="2035" y="903">fire2</text><line class="sa" x1="2079" y1="898" x2="2105" y2="892" marker-end="url(#sa)"/>
<rect class="dr" x="2042" y="913" width="35" height="12" rx="3" style="fill:#bac5de;stroke:#8791ab"/><text class="sr" x="2035" y="924">fire3</text><line class="sa" x1="2079" y1="919" x2="2105" y2="913" marker-end="url(#sa)"/>
<rect class="dr" x="2042" y="934" width="35" height="12" rx="3" style="fill:#bac5de;stroke:#8791ab"/><text class="sr" x="2035" y="945">fire4</text><line class="sa" x1="2079" y1="940" x2="2105" y2="934" marker-end="url(#sa)"/>
<text class="sr" x="2071" y="961">... 8 more</text><line class="sa" x1="2077" y1="956" x2="2105" y2="956" marker-end="url(#sa)"/></g>

<g id="n-report_uninitial_2"><rect class="nd m" x="2031" y="1034" width="181" height="140" rx="16"/><text class="Lm" x="2121" y="1111" textLength="168" lengthAdjust="spacingAndGlyphs">report_uninitial...</text>
<rect class="dr" x="1967" y="1052" width="34" height="12" rx="3"/><text class="sr" x="1959" y="1063">global_step</text><line class="sa" x1="2003" y1="1058" x2="2029" y2="1052" marker-end="url(#sa)"/>
<rect class="dr" x="1967" y="1072" width="34" height="12" rx="3" style="fill:#ececb0;stroke:#b0b080"/><text class="sr" x="1959" y="1083">conv1</text><line class="sa" x1="2003" y1="1078" x2="2029" y2="1072" marker-end="url(#sa)"/>
<rect class="dr" x="1967" y="1093" width="34" height="12" rx="3" style="fill:#bac5de;stroke:#8791ab"/><text class="sr" x="1959" y="1104">fire2</text><line class="sa" x1="2003" y1="1099" x2="2029" y2="1093" marker-end="url(#sa)"/>
<rect class="dr" x="1967" y="1114" width="34" height="12" rx="3" style="fill:#bac5de;stroke:#8791ab"/><text class="sr" x="1959" y="1125">fire3</text><line class="sa" x1="2003" y1="1120" x2="2029" y2="1114" marker-end="url(#sa)"/>
<rect class="dr" x="1967" y="1135" width="34" height="12" rx="3" style="fill:#bac5de;stroke:#8791ab"/><text class="sr" x="1959" y="1146">fire4</text><line class="sa" x1="2003" y1="1141" x2="2029" y2="1135" marker-end="url(#sa)"/>
<text class="sr" x="1995" y="1162">... 8 more</text><line class="sa" x1="2001" y1="1157" x2="2029" y2="1157" marker-end="url(#sa)"/>
<line class="sa" x1="2212" y1="1104" x2="2242" y2="1104" marker-end="url(#sa)"/><ellipse class="de" cx="2257" cy="1104" rx="13" ry="6"/><text class="s" x="2278" y="1109">concat</text></g>

<g id="n-train"><ellipse class="op" cx="2647" cy="69" rx="22" ry="8"/><text class="oL" x="2647" y="51">train</text>
<rect class="dr" x="2560" y="63" width="34" height="12" rx="3"/><text class="sr" x="2552" y="74">Momentum</text><line class="sa sd" x1="2596" y1="69" x2="2623" y2="69" marker-end="url(#sa)"/></g>

<g id="n-init"><rect class="nd t" x="2558" y="167" width="179" height="46" rx="13"/><text class="L" x="2647" y="199">init</text>
<rect class="dr" x="2491" y="138" width="36" height="12" rx="3"/><text class="sr" x="2484" y="149">global_step</text><line class="sa sd" x1="2529" y1="146" x2="2556" y2="184"/>
<rect class="dr" x="2491" y="159" width="36" height="12" rx="3" style="fill:#ececb0;stroke:#b0b080"/><text class="sr" x="2484" y="170">conv1</text><line class="sa sd" x1="2529" y1="166" x2="2556" y2="187"/>
<rect class="dr" x="2491" y="180" width="36" height="12" rx="3"/><text class="sr" x="2484" y="191">conv12</text><line class="sa sd" x1="2529" y1="186" x2="2556" y2="190" marker-end="url(#sa)"/>
<rect class="dr" x="2491" y="200" width="36" height="12" rx="3" style="fill:#c6e2b6;stroke:#8aa27e"/><text class="sr" x="2484" y="211">fire10</text><line class="sa sd" x1="2529" y1="206" x2="2556" y2="193"/>
<rect class="dr" x="2491" y="221" width="36" height="12" rx="3" style="fill:#c6e2b6;stroke:#8aa27e"/><text class="sr" x="2484" y="232">fire11</text><line class="sa sd" x1="2529" y1="227" x2="2556" y2="196"/>
<text class="sr" x="2520" y="248">... 8 more</text><line class="sa sd" x1="2526" y1="243" x2="2556" y2="199"/></g>

<g id="n-tf_map_func_Oyx"><rect class="nd fo" x="2791" y="59" width="180" height="47" rx="13"/><text class="Lm" x="2881" y="90" textLength="172" lengthAdjust="spacingAndGlyphs">tf_map_func_Oyx...</text></g>
<g id="n-tf_map_func_A9I"><rect class="nd fp" x="2791" y="166" width="180" height="48" rx="13"/><text class="Lm" x="2881" y="197" textLength="172" lengthAdjust="spacingAndGlyphs">tf_map_func_A9I...</text></g>
<g id="n-make_dataset"><rect class="nd fv" x="2782" y="273" width="180" height="50" rx="13"/><text class="Lm" x="2872" y="305" textLength="170" lengthAdjust="spacingAndGlyphs">_make_dataset_y...</text></g>
<g id="n-tf_map_func_2rIU"><rect class="nd fm" x="2791" y="383" width="180" height="52" rx="13"/><text class="Lm" x="2881" y="416" textLength="172" lengthAdjust="spacingAndGlyphs">tf_map_func_2rIU...</text></g>

<g id="n-init_1"><ellipse class="op" cx="2496" cy="312" rx="22" ry="8"/><text class="oL" x="2496" y="293">init_1</text>
<line class="sa sd" x1="2519" y1="312" x2="2548" y2="312" marker-end="url(#sa)"/><ellipse class="de" cx="2564" cy="312" rx="14" ry="7"/><text class="s" x="2586" y="317">group_deps</text></g>
<g id="n-init_all_tables"><ellipse class="op" cx="2496" cy="390" rx="22" ry="8"/><text class="oL" x="2496" y="371">init_all_ta...</text>
<line class="sa sd" x1="2519" y1="390" x2="2548" y2="390" marker-end="url(#sa)"/><ellipse class="de" cx="2564" cy="390" rx="14" ry="7"/><text class="s" x="2586" y="395">group_deps</text></g>
<g id="n-init_2"><ellipse class="op" cx="2496" cy="468" rx="22" ry="8"/><text class="oL" x="2496" y="449">init_2</text>
<line class="sa sd" x1="2519" y1="468" x2="2548" y2="468" marker-end="url(#sa)"/><ellipse class="de" cx="2564" cy="468" rx="14" ry="7"/><text class="s" x="2586" y="473">group_deps</text></g>

<g id="n-group_deps"><ellipse class="op" cx="2647" cy="563" rx="22" ry="8"/><text class="oL" x="2647" y="546">group_de...</text>
<ellipse class="de" cx="2578" cy="542" rx="13" ry="7"/><text class="sr" x="2558" y="547">init_1</text><line class="sa sd" x1="2591" y1="545" x2="2623" y2="561"/>
<ellipse class="de" cx="2578" cy="563" rx="13" ry="7"/><text class="sr" x="2558" y="568">init_all_tabl...</text><line class="sa sd" x1="2591" y1="563" x2="2623" y2="563" marker-end="url(#sa)"/>
<ellipse class="de" cx="2578" cy="584" rx="13" ry="7"/><text class="sr" x="2558" y="589">init_2</text><line class="sa sd" x1="2591" y1="581" x2="2623" y2="565"/></g>

<g id="n-concat"><ellipse class="op" cx="2647" cy="678" rx="22" ry="8"/><text class="oL" x="2647" y="661">concat</text>
<circle class="oc" cx="2588" cy="657" r="6"/><text class="sr" x="2579" y="662">Const</text><line class="sa" x1="2593" y1="661" x2="2623" y2="676"/>
<circle class="oc" cx="2588" cy="678" r="6"/><text class="sr" x="2579" y="683">axis</text><line class="sa" x1="2594" y1="678" x2="2623" y2="678" marker-end="url(#sa)"/>
<rect class="dr" x="2560" y="693" width="34" height="12" rx="3" style="fill:#bcdec8;stroke:#8fab98"/><text class="sr" x="2552" y="704">report_unin...</text><line class="sa" x1="2594" y1="697" x2="2623" y2="680"/></g>

</g>
</svg>
